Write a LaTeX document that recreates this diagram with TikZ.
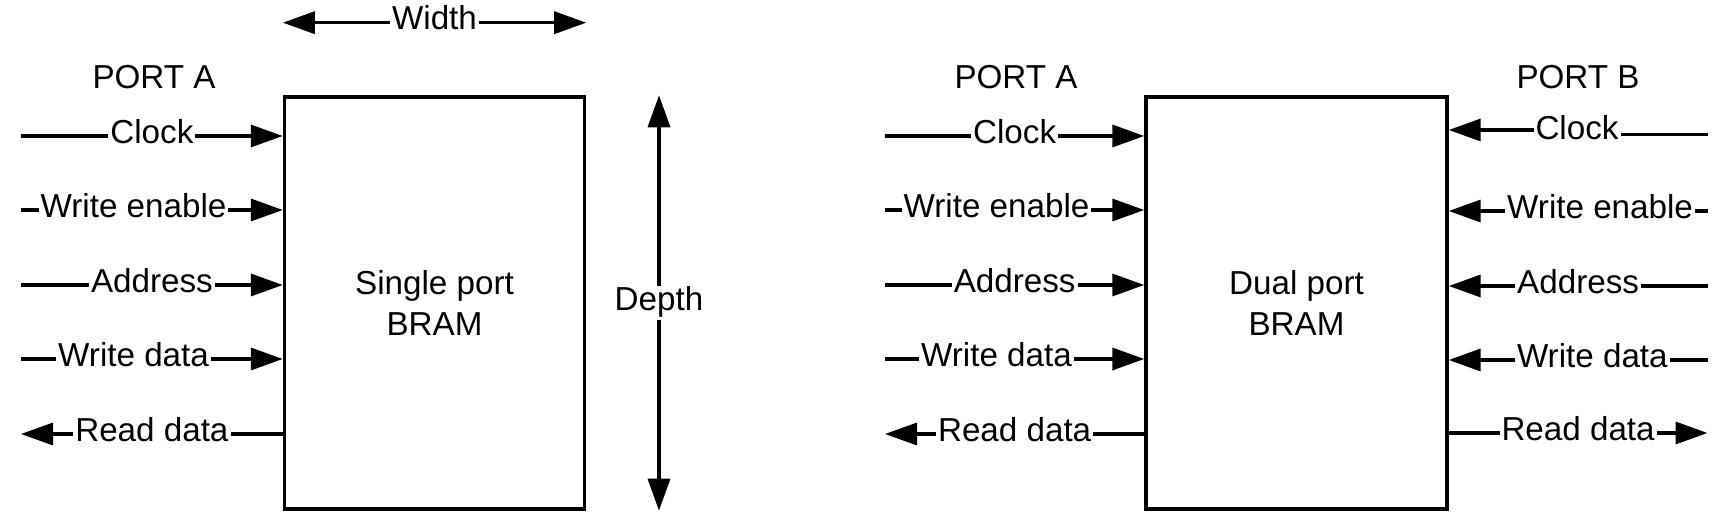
\documentclass[tikz,border=0pt]{standalone}
\usepackage{fontspec}
\setmainfont{Liberation Sans}
\usetikzlibrary{arrows.meta}

\tikzset{
  sig/.style={line width=1.7pt,-{Triangle[length=16pt,width=11pt]}},
  dim/.style={line width=1.7pt,{Triangle[length=16pt,width=11pt]}-{Triangle[length=16pt,width=11pt]}},
  lbl/.style={fill=white,inner xsep=1pt,inner ysep=0pt,text height=12pt,text depth=4.7pt},
  bram/.style={draw,line width=1.7pt,minimum width=150pt,minimum height=206pt,align=center,inner sep=0pt},
}

\begin{document}
\begin{tikzpicture}[x=0.5pt,y=-0.5pt,font=\fontsize{16.6}{20.2}\selectfont]
\useasboundingbox (0,0) rectangle (1730,523);

% single port
\node[bram] (sp) at (434.5,303) {Single port\\BRAM};
\node[lbl] (spA) at (154,81.5) {PORT A};

\coordinate (sclk) at (21,136);
\coordinate (swe) at (21,210);
\coordinate (sadr) at (21,285);
\coordinate (swd) at (21,359);
\coordinate (srd) at (21,434);

\draw[sig] (sclk) -- (sclk -| sp.west) node[lbl,midway] {Clock};
\draw[sig] (swe) -- (swe -| sp.west) node[lbl,pos=.43] {Write enable};
\draw[sig] (sadr) -- (sadr -| sp.west) node[lbl,midway] {Address};
\draw[sig] (swd) -- (swd -| sp.west) node[lbl,pos=.43] {Write data};
\draw[sig] (srd -| sp.west) -- (srd) node[lbl,midway] {Read data};

% width and depth
\coordinate (wtop) at (0,22.7);
\coordinate (dx) at (659,0);
\draw[dim] (sp.west |- wtop) -- (sp.east |- wtop) node[lbl,midway] {Width};
\draw[dim] (dx |- sp.north) -- (dx |- sp.south) node[lbl,midway] {Depth};

% dual port
\node[bram, minimum width=150.5pt] (dp) at (1296.5,303) {Dual port\\BRAM};
\node[lbl] (dpA) at (1016,81.5) {PORT A};
\node[lbl] (dpB) at (1578,81.5) {PORT B};

\coordinate (aclk) at (885,136);
\coordinate (awe) at (885,210);
\coordinate (aadr) at (885,285);
\coordinate (awd) at (885,359);
\coordinate (ard) at (885,434);

\draw[sig] (aclk) -- (aclk -| dp.west) node[lbl,midway] {Clock};
\draw[sig] (awe) -- (awe -| dp.west) node[lbl,pos=.43] {Write enable};
\draw[sig] (aadr) -- (aadr -| dp.west) node[lbl,midway] {Address};
\draw[sig] (awd) -- (awd -| dp.west) node[lbl,pos=.43] {Write data};
\draw[sig] (ard -| dp.west) -- (ard) node[lbl,midway] {Read data};

\coordinate (bclk) at (1707.5,134.3);
\coordinate (bjog) at (1577,0);
\coordinate (bwe) at (1707.5,211);
\coordinate (badr) at (1707.5,286);
\coordinate (bwd) at (1707.5,360);
\coordinate (brd) at (1707.5,433);

\draw[sig] (bclk) -- (bclk -| bjog) -- ([yshift=2.15pt]bclk -| bjog) node[lbl,midway] {Clock}
  -- ([yshift=2.15pt]bclk -| dp.east);
\draw[sig] (bwe) -- (bwe -| dp.east) node[lbl,pos=.415] {Write enable};
\draw[sig] (badr) -- (badr -| dp.east) node[lbl,midway] {Address};
\draw[sig] (bwd) -- (bwd -| dp.east) node[lbl,pos=.445] {Write data};
\draw[sig] (brd -| dp.east) -- (brd) node[lbl,midway] {Read data};
\end{tikzpicture}
\end{document}
